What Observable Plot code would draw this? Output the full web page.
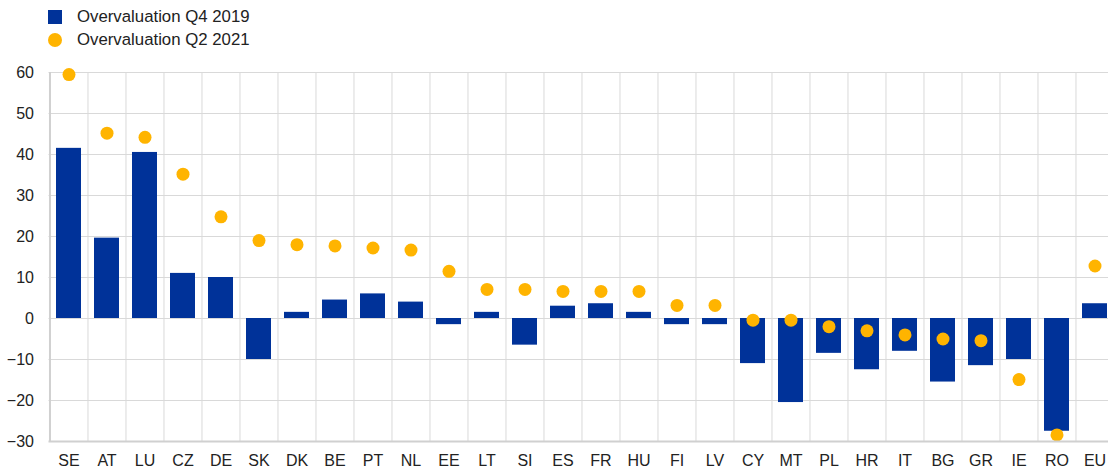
<!DOCTYPE html>
<html><head><meta charset="utf-8">
<script src="https://cdn.jsdelivr.net/npm/d3@7"></script>
<script src="https://cdn.jsdelivr.net/npm/@observablehq/plot@0.6"></script>
<style>
body{margin:0;background:#fff;overflow:hidden;font-family:Arial,"Liberation Sans",sans-serif;}
#wrap{position:relative;width:1108px;height:473px;overflow:hidden;}
#wrap svg{position:absolute;left:0;top:0;}
.legend{position:absolute;left:48px;top:5px;font-size:16.8px;color:#222;line-height:23px;z-index:2;}
.legend div{display:flex;align-items:center;}
.sw{display:inline-block;width:14px;height:14px;margin-right:15px;}
.sq{background:#003299;}
.ci{background:#ffb400;border-radius:50%;}
</style></head><body>
<div id="wrap">
  <div class="legend">
    <div><span class="sw sq"></span>Overvaluation Q4 2019</div>
    <div><span class="sw ci"></span>Overvaluation Q2 2021</div>
  </div>
</div>
<script>
const countries = ["SE","AT","LU","CZ","DE","SK","DK","BE","PT","NL","EE","LT","SI","ES","FR","HU","FI","LV","CY","MT","PL","HR","IT","BG","GR","IE","RO","EU"];
const q4_2019 = [41.5,19.6,40.5,11,10,-10,1.5,4.5,6,4,-1.5,1.5,-6.5,3,3.6,1.5,-1.5,-1.5,-11,-20.5,-8.5,-12.5,-8,-15.5,-11.5,-10,-27.5,3.6];
const q2_2021 = [59.5,45.2,44.2,35.2,24.8,19,18,17.7,17.2,16.7,11.5,7.1,7.1,6.6,6.6,6.6,3.2,3.2,-0.4,-0.4,-2,-3,-4,-5,-5.4,-14.9,-28.4,12.8];
const yTicks = [-30,-20,-10,0,10,20,30,40,50,60];

const data = countries.map((c, i) => ({c, v19: q4_2019[i], v21: q2_2021[i]}));

const W = 1108, H = 473;
const mL = 48.5, mR = -5.6;
const step = (W - mL - mR) / countries.length;

const chart = Plot.plot({
  width: W, height: H,
  marginLeft: mL, marginRight: mR, marginTop: 72, marginBottom: 32,
  style: {fontSize: "16px", fontFamily: "Arial, 'Liberation Sans', sans-serif", color: "#222", background: "transparent", overflow: "visible"},
  x: {type: "band", domain: countries, paddingInner: 0.34, paddingOuter: 0.17, align: 0.5, tickSize: 0, tickPadding: 13, label: null},
  y: {domain: [-30, 60], ticks: yTicks, tickSize: 0, tickPadding: 15, label: null},
  marks: [
    Plot.ruleY(yTicks.filter(t => t > -30), {stroke: "#d9d9d9", strokeWidth: 1}),
    Plot.ruleX(countries.slice(1), {x: d => d, dx: -step / 2, stroke: "#d9d9d9", strokeWidth: 1}),
    Plot.barY(data, {x: "c", y: "v19", fill: "#003299"}),
    Plot.dot(data, {x: "c", y: "v21", r: 6.5, fill: "#ffb400", stroke: "none"}),
    Plot.ruleX(countries.slice(0, 1), {x: d => d, dx: -step / 2, stroke: "#d0d0d0", strokeWidth: 2}),
    Plot.ruleY([-30], {stroke: "#d0d0d0", strokeWidth: 2})
  ]
});
document.getElementById("wrap").appendChild(chart);
</script>
</body></html>
